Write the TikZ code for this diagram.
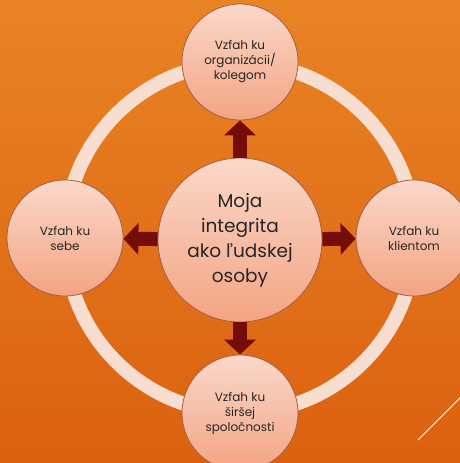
\documentclass[tikz,border=0pt]{standalone}
\usepackage{fontspec}
\setmainfont{Poppins}
\usetikzlibrary{arrows.meta}
\definecolor{bgTop}{RGB}{233,131,36}
\definecolor{bgBottom}{RGB}{219,97,16}
\definecolor{ringColor}{RGB}{248,222,208}
\definecolor{discTop}{RGB}{250,216,202}
\definecolor{discBottom}{RGB}{243,164,130}
\definecolor{discEdge}{RGB}{160,95,70}
\definecolor{arrowRed}{RGB}{116,12,8}
\definecolor{textGray}{RGB}{38,38,38}
\begin{document}
\begin{tikzpicture}
[x=1pt,y=-1pt,
  discDecorate/.style={shape=circle,inner sep=0pt,draw=discEdge,line width=0.8pt,
    top color=discTop,bottom color=discBottom,text=textGray,align=center},
  outerDisc/.style={discDecorate,minimum size=116pt,font=\fontsize{12}{15}\selectfont},
  midDisc/.style={discDecorate,minimum size=164pt,font=\fontsize{18.5}{25}\selectfont},
  blockArrow/.style={draw=arrowRed,line width=14pt,-{Triangle[width=31pt,length=15pt]}}]
\useasboundingbox (0,0) rectangle (460,463);
\fill[top color=bgTop,bottom color=bgBottom] (0,0) rectangle (460,463);
%% ring behind the discs
\coordinate (hub) at (240,238);
\draw[ringColor,line width=14pt] (hub) circle (175pt);
%% nodes or vertices
\foreach \nodename/\x/\y/\txt in {
  top/240/62/{Vzfah ku\\organizácii/\\kolegom},
  left/65/238/{Vzfah ku\\sebe},
  right/414/238/{Vzfah ku\\klientom},
  bottom/240/413/{Vzfah ku\\širšej\\spoločnosti}}
{
  \node (\nodename) at (\x,\y) [outerDisc] {\txt};
}
\node (mid) at (240,240) [midDisc] {Moja\\integrita\\ako ľudskej\\osoby};
%% arrows out of the middle
\foreach \endnode in {top,left,right,bottom}
{
  \draw[blockArrow] (mid) -- (\endnode);
}
\draw[white,line width=1pt] (418,440) -- (463,395);
\end{tikzpicture}
\end{document}
